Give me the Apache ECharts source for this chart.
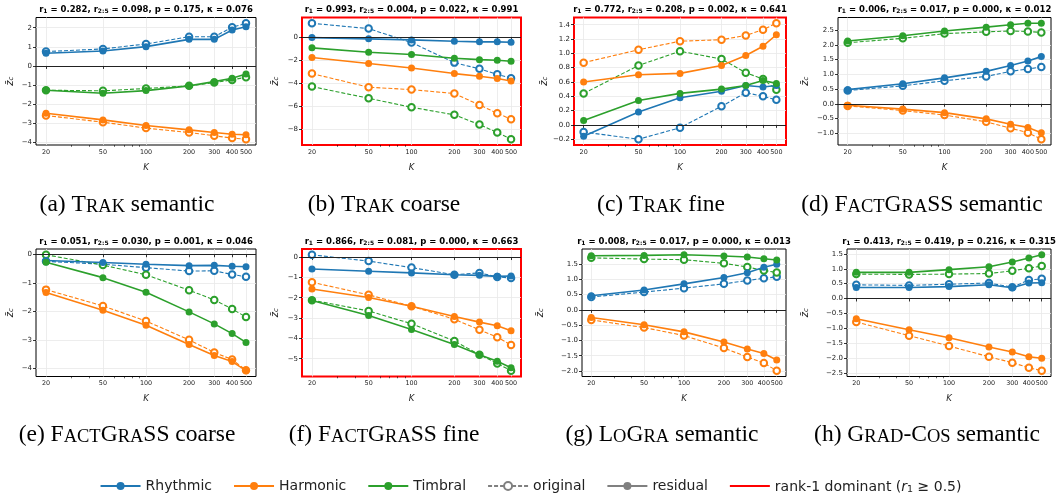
<!DOCTYPE html>
<html><head><meta charset="utf-8">
<script src="https://cdn.jsdelivr.net/npm/echarts@6/dist/echarts.min.js"></script>
<style>html,body{margin:0;padding:0;background:#fff}#c{width:1061px;height:498px}</style>
</head><body><div id="c"></div>
<script>
// ---------- data ----------
const K = [20, 50, 100, 200, 300, 400, 500];
const kTickLabels = [20, 50, 100, 200, 300, 400, 500];
const kMinorTicks = [30, 40, 60, 70, 80, 90];

// (a) TRAK semantic
const aRhyRes  = [0.66, 0.78, 1.01, 1.39, 1.39, 1.88, 2.05];
const aRhyOrig = [0.75, 0.89, 1.15, 1.53, 1.53, 2.02, 2.23];
const aHarRes  = [-2.47, -2.82, -3.11, -3.34, -3.48, -3.57, -3.60];
const aHarOrig = [-2.59, -2.94, -3.25, -3.48, -3.65, -3.77, -3.83];
const aTimRes  = [-1.27, -1.43, -1.29, -1.04, -0.82, -0.64, -0.42];
const aTimOrig = [-1.27, -1.30, -1.18, -1.04, -0.87, -0.73, -0.59];
// (b) TRAK coarse
const bRhyRes  = [-0.06, -0.17, -0.26, -0.38, -0.43, -0.43, -0.46];
const bRhyOrig = [1.18, 0.72, -0.49, -2.23, -2.77, -3.24, -3.58];
const bHarRes  = [-1.79, -2.31, -2.69, -3.18, -3.41, -3.61, -3.82];
const bHarOrig = [-3.18, -4.36, -4.57, -4.91, -5.90, -6.62, -7.14];
const bTimRes  = [-0.95, -1.33, -1.53, -1.85, -1.97, -2.02, -2.11];
const bTimOrig = [-4.31, -5.32, -6.10, -6.76, -7.60, -8.29, -8.87];
// (c) TRAK fine
const cRhyRes  = [-0.16, 0.18, 0.38, 0.47, 0.55, 0.53, 0.55];
const cRhyOrig = [-0.10, -0.20, -0.04, 0.26, 0.45, 0.40, 0.35];
const cHarRes  = [0.60, 0.70, 0.72, 0.83, 0.97, 1.10, 1.26];
const cHarOrig = [0.87, 1.05, 1.17, 1.19, 1.25, 1.33, 1.42];
const cTimRes  = [0.06, 0.34, 0.44, 0.50, 0.55, 0.62, 0.58];
const cTimOrig = [0.44, 0.83, 1.03, 0.92, 0.73, 0.64, 0.49];
// (d) FactGraSS semantic
const dRhyRes  = [0.48, 0.68, 0.88, 1.10, 1.30, 1.45, 1.60];
const dRhyOrig = [0.45, 0.61, 0.78, 0.93, 1.10, 1.18, 1.25];
const dHarRes  = [-0.05, -0.18, -0.30, -0.51, -0.69, -0.80, -0.98];
const dHarOrig = [-0.07, -0.23, -0.38, -0.61, -0.83, -0.98, -1.20];
const dTimRes  = [2.13, 2.31, 2.47, 2.60, 2.68, 2.73, 2.73];
const dTimOrig = [2.07, 2.22, 2.38, 2.44, 2.47, 2.45, 2.42];
// (e) FactGraSS coarse
const eRhyRes  = [-0.22, -0.29, -0.35, -0.40, -0.39, -0.42, -0.44];
const eRhyOrig = [-0.25, -0.35, -0.47, -0.59, -0.58, -0.71, -0.79];
const eHarRes  = [-1.34, -1.96, -2.49, -3.16, -3.55, -3.76, -4.08];
const eHarOrig = [-1.24, -1.81, -2.34, -3.00, -3.44, -3.69, -4.06];
const eTimRes  = [-0.28, -0.82, -1.33, -2.02, -2.44, -2.78, -3.09];
const eTimOrig = [-0.02, -0.38, -0.72, -1.26, -1.60, -1.92, -2.20];
// (f) FactGraSS fine
const fRhyRes  = [-0.59, -0.70, -0.78, -0.87, -0.90, -0.95, -0.93];
const fRhyOrig = [0.11, -0.20, -0.52, -0.87, -0.78, -0.98, -1.03];
const fHarRes  = [-1.57, -1.99, -2.42, -2.92, -3.20, -3.38, -3.63];
const fHarOrig = [-1.24, -1.86, -2.42, -3.06, -3.58, -3.94, -4.33];
const fTimRes  = [-2.14, -2.88, -3.56, -4.30, -4.80, -5.13, -5.44];
const fTimOrig = [-2.12, -2.65, -3.28, -4.13, -4.80, -5.23, -5.59];
// (g) LoGra semantic
const gRhyRes  = [0.46, 0.65, 0.85, 1.06, 1.21, 1.39, 1.49];
const gRhyOrig = [0.42, 0.58, 0.71, 0.85, 0.96, 1.03, 1.08];
const gHarRes  = [-0.25, -0.49, -0.72, -1.05, -1.28, -1.43, -1.64];
const gHarOrig = [-0.33, -0.58, -0.84, -1.25, -1.54, -1.74, -1.99];
const gTimRes  = [1.77, 1.78, 1.80, 1.76, 1.73, 1.67, 1.63];
const gTimOrig = [1.70, 1.66, 1.64, 1.52, 1.40, 1.29, 1.22];
// (h) Grad-Cos semantic
const hRhyRes  = [0.37, 0.37, 0.40, 0.46, 0.36, 0.52, 0.53];
const hRhyOrig = [0.46, 0.44, 0.48, 0.52, 0.38, 0.62, 0.66];
const hHarRes  = [-0.68, -1.05, -1.32, -1.63, -1.80, -1.96, -2.01];
const hHarOrig = [-0.79, -1.25, -1.60, -1.96, -2.16, -2.33, -2.43];
const hTimRes  = [0.88, 0.88, 0.97, 1.07, 1.23, 1.36, 1.47];
const hTimOrig = [0.82, 0.81, 0.82, 0.84, 0.93, 1.02, 1.09];

// y tick labels per panel
const aYTicks = [-4, -3, -2, -1, 0, 1, 2];
const bYTicks = [-8, -6, -4, -2, 0];
const cYTicks = [-0.2, 0, 0.2, 0.4, 0.6, 0.8, 1.0, 1.2, 1.4];
const dYTicks = [-1.0, -0.5, 0, 0.5, 1.0, 1.5, 2.0, 2.5];
const eYTicks = [-4, -3, -2, -1, 0];
const fYTicks = [-5, -4, -3, -2, -1, 0];
const gYTicks = [-2.0, -1.5, -1.0, -0.5, 0, 0.5, 1.0, 1.5];
const hYTicks = [-2.5, -2.0, -1.5, -1.0, -0.5, 0, 0.5, 1.0, 1.5];

// stats in titles: r1, r2:5, p, kappa
const statsR1  = ['0.282', '0.993', '0.772', '0.006', '0.051', '0.866', '0.008', '0.413'];
const statsR25 = ['0.098', '0.004', '0.208', '0.017', '0.030', '0.081', '0.017', '0.419'];
const statsP   = ['0.175', '0.022', '0.002', '0.000', '0.001', '0.000', '0.000', '0.216'];
const statsKap = ['0.076', '0.991', '0.641', '0.012', '0.046', '0.663', '0.013', '0.315'];

const captions = [
  '{n|(a) T}{s|RAK}{n| semantic}',
  '{n|(b) T}{s|RAK}{n| coarse}',
  '{n|(c) T}{s|RAK}{n| fine}',
  '{n|(d) F}{s|ACT}{n|G}{s|RA}{n|SS semantic}',
  '{n|(e) F}{s|ACT}{n|G}{s|RA}{n|SS coarse}',
  '{n|(f) F}{s|ACT}{n|G}{s|RA}{n|SS fine}',
  '{n|(g) L}{s|O}{n|G}{s|RA}{n| semantic}',
  '{n|(h) G}{s|RAD}{n|-C}{s|OS}{n| semantic}'
];

// ---------- layout / style ----------
const C = { Rhythmic: '#1f77b4', Harmonic: '#ff7f0e', Timbral: '#2ca02c' };
const panels = [
  { grid: { left: 36,  top: 17.5, width: 220, height: 127.5 }, ticks: aYTicks, dec: 0, gap: 21, cap: [127, 203],
    d: { Rhythmic: [aRhyOrig, aRhyRes], Harmonic: [aHarOrig, aHarRes], Timbral: [aTimOrig, aTimRes] } },
  { grid: { left: 302, top: 17.5, width: 219, height: 127.5 }, ticks: bYTicks, dec: 0, gap: 22, cap: [384, 203],
    d: { Rhythmic: [bRhyOrig, bRhyRes], Harmonic: [bHarOrig, bHarRes], Timbral: [bTimOrig, bTimRes] } },
  { grid: { left: 574, top: 17.5, width: 212, height: 127.5 }, ticks: cYTicks, dec: 1, gap: 23, cap: [661, 203],
    d: { Rhythmic: [cRhyOrig, cRhyRes], Harmonic: [cHarOrig, cHarRes], Timbral: [cTimOrig, cTimRes] } },
  { grid: { left: 838, top: 17.5, width: 213, height: 127.5 }, ticks: dYTicks, dec: 1, gap: 28, cap: [922, 203],
    d: { Rhythmic: [dRhyOrig, dRhyRes], Harmonic: [dHarOrig, dHarRes], Timbral: [dTimOrig, dTimRes] } },
  { grid: { left: 36,  top: 249, width: 220, height: 127.5 }, ticks: eYTicks, dec: 0, gap: 21, cap: [127, 433],
    d: { Rhythmic: [eRhyOrig, eRhyRes], Harmonic: [eHarOrig, eHarRes], Timbral: [eTimOrig, eTimRes] } },
  { grid: { left: 302, top: 249, width: 219, height: 127.5 }, ticks: fYTicks, dec: 0, gap: 22, cap: [384, 433],
    d: { Rhythmic: [fRhyOrig, fRhyRes], Harmonic: [fHarOrig, fHarRes], Timbral: [fTimOrig, fTimRes] } },
  { grid: { left: 582, top: 249, width: 204, height: 127.5 }, ticks: gYTicks, dec: 1, gap: 37, cap: [662, 433],
    d: { Rhythmic: [gRhyOrig, gRhyRes], Harmonic: [gHarOrig, gHarRes], Timbral: [gTimOrig, gTimRes] } },
  { grid: { left: 847, top: 249, width: 204, height: 127.5 }, ticks: hYTicks, dec: 1, gap: 37, cap: [927, 433],
    d: { Rhythmic: [hRhyOrig, hRhyRes], Harmonic: [hHarOrig, hHarRes], Timbral: [hTimOrig, hTimRes] } }
];

const L10 = Math.log10;
const xLo = L10(K[0]), xHi = L10(K[K.length - 1]);
const xMin = xLo - 0.05 * (xHi - xLo), xMax = xHi + 0.05 * (xHi - xLo);
const fmtMinus = s => s.replace('-', '\u2212');
const FONT = 'DejaVu Sans';

const grids = [], xAxes = [], yAxes = [], series = [], graphics = [];

panels.forEach((p, i) => {
  const red = parseFloat(statsR1[i]) >= 0.5;
  grids.push(Object.assign({ show: true, borderColor: red ? '#ff0000' : '#000', borderWidth: red ? 2 : 1,
    backgroundColor: 'transparent', containLabel: false }, p.grid));
  let all = [];
  Object.values(p.d).forEach(pair => { all = all.concat(pair[0], pair[1]); });
  const lo = Math.min(...all), hi = Math.max(...all), rg = hi - lo;
  const yMin = lo - 0.05 * rg, yMax = hi + 0.05 * rg;

  xAxes.push({
    gridIndex: i, type: 'value', min: xMin, max: xMax, position: 'bottom',
    name: 'K', nameLocation: 'middle', nameGap: 18,
    nameTextStyle: { fontStyle: 'italic', fontSize: 8.5, fontFamily: FONT, color: '#222' },
    axisLine: { show: false },
    axisTick: { show: true, length: 3, lineStyle: { color: '#000', width: 0.8 }, customValues: kTickLabels.map(L10) },
    axisLabel: { show: true, margin: 4, fontSize: 6.4, fontFamily: FONT, color: '#222', hideOverlap: false,
      showMinLabel: true, showMaxLabel: true,
      customValues: kTickLabels.map(L10), formatter: v => String(Math.round(Math.pow(10, v))) },
    splitLine: { show: true, lineStyle: { color: '#e8e8e8', width: 0.8 } }
  });
  xAxes.push({
    gridIndex: i, type: 'value', min: xMin, max: xMax, position: 'bottom',
    axisLine: { show: false },
    axisTick: { show: true, length: 1.8, lineStyle: { color: '#000', width: 0.6 }, customValues: kMinorTicks.map(L10) },
    axisLabel: { show: false }, splitLine: { show: false }
  });
  yAxes.push({
    gridIndex: i, type: 'value', min: yMin, max: yMax,
    name: '{z|z\u0304}{c|c}', nameLocation: 'middle', nameGap: p.gap, nameRotate: 90,
    nameTextStyle: { rich: {
      z: { fontStyle: 'italic', fontSize: 10, fontFamily: FONT, color: '#222', verticalAlign: 'bottom', lineHeight: 12 },
      c: { fontStyle: 'italic', fontSize: 7, fontFamily: FONT, color: '#222', verticalAlign: 'bottom', lineHeight: 6 } } },
    axisLine: { show: false },
    axisTick: { show: true, length: 3, lineStyle: { color: '#000', width: 0.8 }, customValues: p.ticks },
    axisLabel: { show: true, margin: 4, fontSize: 7, fontFamily: FONT, color: '#222', customValues: p.ticks,
      hideOverlap: false, showMinLabel: true, showMaxLabel: true,
      formatter: v => fmtMinus(Number(v).toFixed(p.dec)) },
    splitLine: { show: true, lineStyle: { color: '#e8e8e8', width: 0.8 } }
  });

  const xi = 2 * i;
  series.push({
    name: 'zero' + i, type: 'line', xAxisIndex: xi, yAxisIndex: i, data: [], silent: true, z: 1,
    markLine: { silent: true, symbol: ['none', 'none'], label: { show: false },
      lineStyle: { color: '#222', width: 1.1, type: 'solid' }, data: [{ yAxis: 0 }], animation: false }
  });
  ['Rhythmic', 'Harmonic', 'Timbral'].forEach(cat => {
    const col = C[cat];
    const orig = p.d[cat][0];
    series.push({
      name: 'p' + i + cat + 'orig', type: 'line', xAxisIndex: xi, yAxisIndex: i, z: 3,
      data: K.map((k, j) => [L10(k), orig[j]]),
      symbol: 'emptyCircle', symbolSize: 6.5, showSymbol: true,
      lineStyle: { color: col, width: 1.1, type: [4, 2] },
      itemStyle: { color: col, borderColor: col, borderWidth: 1.2 }
    });
  });
  ['Rhythmic', 'Harmonic', 'Timbral'].forEach(cat => {
    const col = C[cat];
    const res = p.d[cat][1];
    series.push({
      name: 'p' + i + cat + 'res', type: 'line', xAxisIndex: xi, yAxisIndex: i, z: 4,
      data: K.map((k, j) => [L10(k), res[j]]),
      symbol: 'circle', symbolSize: 7, showSymbol: true,
      lineStyle: { color: col, width: 1.6 },
      itemStyle: { color: col }
    });
  });

  const cx = p.grid.left + p.grid.width / 2;
  graphics.push({
    type: 'text', x: cx, y: p.grid.top - 8.5, silent: true,
    style: {
      text: `{m|r}{s|1}{m| = ${statsR1[i]}, r}{s|2:5}{m| = ${statsR25[i]}, p = ${statsP[i]}, \u03ba = ${statsKap[i]}}`,
      align: 'center', verticalAlign: 'middle',
      rich: {
        m: { fontSize: 8.5, fontWeight: 'bold', fontFamily: FONT, fill: '#000', verticalAlign: 'bottom', lineHeight: 11 },
        s: { fontSize: 6, fontWeight: 'bold', fontFamily: FONT, fill: '#000', verticalAlign: 'bottom', lineHeight: 5 }
      }
    }
  });
  graphics.push({
    type: 'text', x: p.cap[0], y: p.cap[1], silent: true,
    style: {
      text: captions[i], align: 'center', verticalAlign: 'middle',
      rich: {
        n: { fontSize: 23.5, fontFamily: 'Liberation Serif', fill: '#000', verticalAlign: 'bottom', lineHeight: 27 },
        s: { fontSize: 18.5, fontFamily: 'Liberation Serif', fill: '#000', verticalAlign: 'bottom', lineHeight: 22 }
      }
    }
  });
});

// legend proxy series
const legendNames = ['Rhythmic', 'Harmonic', 'Timbral', 'original', 'residual', 'rank1'];
[['Rhythmic', C.Rhythmic], ['Harmonic', C.Harmonic], ['Timbral', C.Timbral]].forEach(([n, col]) => {
  series.push({ name: n, type: 'line', xAxisIndex: 0, yAxisIndex: 0, data: [], symbol: 'circle', symbolSize: 8,
    lineStyle: { color: col, width: 2 }, itemStyle: { color: col } });
});
series.push({ name: 'original', type: 'line', xAxisIndex: 0, yAxisIndex: 0, data: [], symbol: 'emptyCircle', symbolSize: 8,
  lineStyle: { color: '#808080', width: 1.6, type: [4, 2] }, itemStyle: { color: '#808080', borderColor: '#808080', borderWidth: 1.4 } });
series.push({ name: 'residual', type: 'line', xAxisIndex: 0, yAxisIndex: 0, data: [], symbol: 'circle', symbolSize: 8,
  lineStyle: { color: '#808080', width: 2 }, itemStyle: { color: '#808080' } });
series.push({ name: 'rank1', type: 'line', xAxisIndex: 0, yAxisIndex: 0, data: [], symbol: 'none',
  lineStyle: { color: '#ff0000', width: 3.5 }, itemStyle: { color: '#ff0000' } });

const chart = echarts.init(document.getElementById('c'), null, { renderer: 'canvas', width: 1061, height: 498 });
chart.setOption({
  animation: false,
  backgroundColor: '#fff',
  grid: grids, xAxis: xAxes, yAxis: yAxes, series: series, graphic: graphics,
  legend: {
    data: legendNames.map(n => n === 'rank1' ? { name: n, itemStyle: { opacity: 0 } } : n),
    left: 'center', top: 474, itemWidth: 40, itemHeight: 10, itemGap: 21,
    selectedMode: false,
    textStyle: { fontSize: 14, fontFamily: FONT, color: '#222',
      rich: {
        t: { fontSize: 14, fontFamily: FONT, color: '#222', verticalAlign: 'bottom', lineHeight: 17 },
        i: { fontSize: 14, fontFamily: FONT, fontStyle: 'italic', color: '#222', verticalAlign: 'bottom', lineHeight: 17 },
        u: { fontSize: 9.5, fontFamily: FONT, color: '#222', verticalAlign: 'bottom', lineHeight: 13 }
      } },
    formatter: n => n === 'rank1' ? '{t|rank-1 dominant (}{i|r}{u|1}{t| \u2265 0.5)}' : n
  }
});
</script></body></html>
